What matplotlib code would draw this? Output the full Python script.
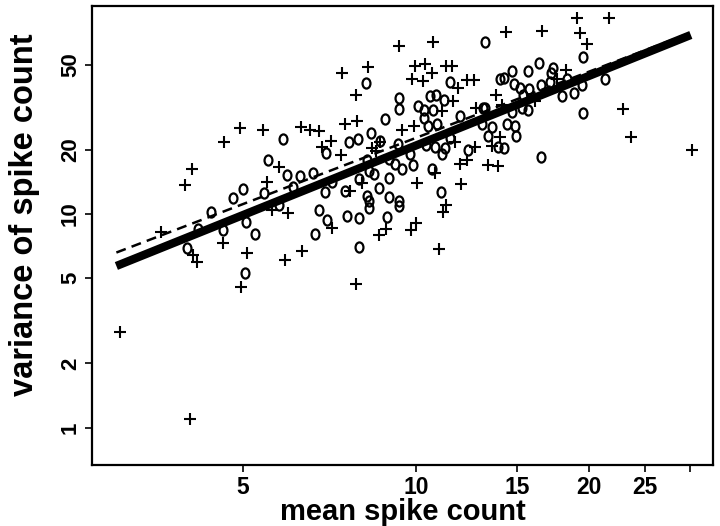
import matplotlib
matplotlib.use('Agg')
from matplotlib import pyplot as plt
from matplotlib.path import Path
from matplotlib.transforms import Affine2D

# cells drawn with 'o'
o_mean = [4.0, 4.62, 5.25, 5.05, 4.17, 4.39, 4.81, 5.0, 5.52, 5.45,
          5.77, 5.07, 5.87, 6.98, 5.97, 6.29, 6.62, 6.12, 6.94, 6.77,
          7.01, 6.67, 13.2, 8.19, 11.47, 9.33, 9.33, 10.6, 10.83, 11.17,
          10.07, 10.35, 10.72, 8.83, 10.32, 10.51, 10.88, 11.94, 13.11, 8.36,
          7.64, 7.92, 8.67, 9.3, 9.77, 10.42, 10.8, 11.24, 11.1, 11.47,
          12.34, 13.36, 13.03, 8.22, 8.96, 9.19, 9.45, 9.89, 10.66, 8.27,
          8.44, 8.96, 7.14, 7.96, 7.54, 8.61, 11.08, 8.22, 8.27, 8.96,
          9.33, 9.33, 8.29, 7.6, 7.97, 8.9, 7.97, 14.02, 14.25, 14.68,
          15.65, 14.79, 15.19, 15.75, 15.39, 16.36, 17.29, 17.16, 19.5, 16.53,
          17.12, 18.35, 21.34, 19.44, 18.85, 17.94, 13.2, 14.7, 15.29, 15.65,
          13.58, 14.39, 14.88, 14.95, 13.91, 14.25, 19.57, 16.53]
o_var = [6.9, 8.42, 8.1, 5.28, 8.5, 10.2, 11.85, 13.1, 17.8, 12.6,
         11.05, 9.2, 22.5, 19.3, 15.2, 15.0, 15.5, 13.4, 12.7, 10.4,
         9.34, 8.1, 64.0, 41.2, 41.5, 34.7, 30.9, 35.5, 36.0, 34.2,
         32.1, 30.6, 30.6, 27.7, 28.0, 25.8, 26.4, 28.8, 31.3, 24.0,
         21.7, 22.5, 21.9, 21.2, 19.1, 21.0, 20.6, 20.3, 19.0, 22.6,
         20.0, 23.1, 26.4, 17.9, 18.1, 17.2, 16.2, 16.9, 16.2, 15.9,
         15.3, 14.8, 14.1, 14.6, 12.85, 13.2, 12.7, 12.1, 11.5, 12.05,
         11.5, 10.9, 10.7, 9.76, 9.62, 9.7, 6.98, 42.9, 43.2, 46.8,
         46.8, 40.6, 38.8, 38.6, 36.0, 50.9, 48.3, 45.9, 54.5, 40.0,
         41.6, 42.7, 42.7, 40.0, 36.8, 35.7, 31.4, 30.0, 31.3, 30.7,
         25.4, 26.3, 25.8, 23.1, 20.6, 20.3, 29.8, 18.5]

# cells drawn with '+'
p_mean = [3.06, 4.04, 4.09, 4.15, 4.61, 5.09, 4.97, 3.6, 4.95, 4.64,
          4.08, 3.97, 5.42, 5.78, 5.5, 5.62, 6.32, 6.55, 6.79, 7.12,
          6.85, 7.43, 5.99, 7.14, 6.33, 5.91, 9.36, 10.69, 8.24, 9.96,
          10.39, 10.65, 11.29, 11.55, 9.86, 10.27, 11.84, 12.25, 12.62, 7.87,
          11.59, 11.1, 12.73, 7.52, 7.9, 9.45, 9.94, 8.39, 11.7, 12.68,
          11.94, 12.28, 13.33, 7.41, 8.53, 8.05, 10.05, 7.67, 12.0, 11.26,
          11.14, 8.61, 8.88, 9.79, 10.0, 7.85, 10.99, 10.8, 14.36, 13.8,
          14.1, 14.02, 13.56, 13.91, 16.59, 19.08, 21.7, 19.31, 19.83, 18.27,
          17.59, 16.13, 22.9, 23.66, 30.2, 8.67]
p_var = [2.8, 1.1, 6.43, 5.96, 7.3, 6.6, 4.56, 8.24, 25.2, 21.8,
         16.2, 13.7, 24.7, 16.6, 14.1, 10.4, 25.4, 24.7, 24.5, 21.9,
         20.6, 45.7, 10.1, 8.6, 6.7, 6.11, 60.9, 63.7, 48.6, 49.3,
         50.5, 45.9, 49.1, 49.1, 42.7, 42.1, 38.7, 42.3, 42.3, 36.0,
         33.8, 30.3, 31.3, 26.3, 27.2, 24.8, 25.8, 20.3, 21.6, 20.6,
         17.2, 17.9, 16.9, 18.9, 19.75, 14.0, 13.9, 12.8, 13.8, 11.0,
         10.25, 8.0, 8.54, 8.42, 9.04, 4.69, 6.84, 15.6, 70.9, 36.0,
         32.4, 22.9, 20.9, 16.7, 71.6, 82.4, 82.8, 70.1, 62.7, 47.2,
         42.95, 33.8, 31.1, 22.85, 19.9, 21.8]

# fitted line (solid) and reference line (dashed)
fit_mean = [3.01, 30.1]
fit_var = [5.71, 68.8]
ref_var = [6.6, 70.5]

xticks = [5, 10, 15, 20, 25, 30]
xticklabels = ['5', '10', '15', '20', '25', '']
yticks = [1, 2, 5, 10, 20, 50]

font = ['Liberation Sans', 'DejaVu Sans']

fig = plt.figure(figsize=(7.2, 5.26), dpi=100)
ax = fig.add_axes([0.1278, 0.116, 0.8625, 0.8726])

# tall open oval, like the printed 'o'
oval = Path.unit_circle().transformed(Affine2D().scale(0.78, 1.0))

ax.plot(o_mean, o_var, linestyle='none', marker=oval, markersize=7.3,
        markerfacecolor='none', markeredgecolor='black', markeredgewidth=1.6)
ax.plot(p_mean, p_var, linestyle='none', marker='+', markersize=8,
        color='black', markeredgewidth=1.5)

ax.plot(fit_mean, fit_var, color='black', linewidth=6, solid_capstyle='butt')
ax.plot(fit_mean, ref_var, color='black', linewidth=1.8, dashes=(4, 2.5))

ax.set_xscale('log')
ax.set_yscale('log')
ax.set_xlim(2.73, 32.9)
ax.set_ylim(0.669, 94)

ax.set_xticks(xticks)
ax.set_xticklabels(xticklabels)
ax.set_yticks(yticks)
ax.set_yticklabels([str(v) for v in yticks])
ax.minorticks_off()

for s in ax.spines.values():
    s.set_linewidth(1.6)
ax.tick_params(direction='out', length=5, width=1.2, pad=3)
for lab in ax.get_xticklabels():
    lab.set_family(font)
    lab.set_fontweight('bold')
    lab.set_fontsize(16.5)
for lab in ax.get_yticklabels():
    lab.set_family(font)
    lab.set_fontweight('bold')
    lab.set_fontsize(16)
    lab.set_rotation(90)
    lab.set_va('center')

ax.set_xlabel('mean spike count', family=font, fontweight='bold', fontsize=21)
ax.set_ylabel('variance of spike count', family=font, fontweight='bold', fontsize=23.5)
ax.xaxis.label.set_va('center')
ax.yaxis.label.set_va('center')
ax.xaxis.set_label_coords(0.5, -0.103)
ax.yaxis.set_label_coords(-0.108, 0.545)

fig.savefig('out.png', dpi=100)
